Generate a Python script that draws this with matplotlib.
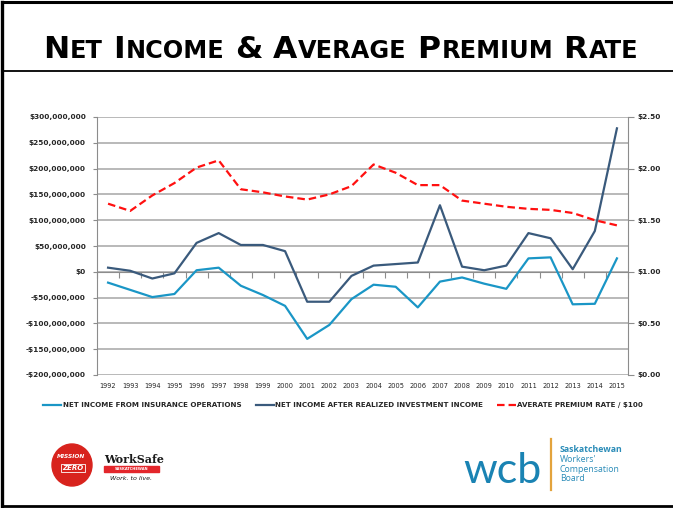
import matplotlib
matplotlib.use('Agg')
import matplotlib.pyplot as plt
from matplotlib.lines import Line2D
from matplotlib.patches import Ellipse, Rectangle
from matplotlib.ticker import FuncFormatter

W, H = 673, 508

# === Data ===
years = ['1992', '1993', '1994', '1995', '1996', '1997', '1998', '1999',
         '2000', '2001', '2002', '2003', '2004', '2005', '2006', '2007',
         '2008', '2009', '2010', '2011', '2012', '2013', '2014', '2015']
ops_income_m = [-21, -35, -49, -43, 3, 8, -27, -45, -66, -130, -103, -53,
                -25, -29, -69, -19, -11, -23, -33, 26, 28, -63, -62, 26]
after_inv_m = [8, 2, -13, -3, 56, 75, 52, 52, 40, -58, -58, -8,
               12, 15, 18, 129, 10, 3, 12, 75, 65, 5, 79, 278]
avg_rate = [1.66, 1.59, 1.74, 1.86, 2.01, 2.08, 1.80, 1.77, 1.73, 1.70, 1.75, 1.83,
            2.04, 1.96, 1.84, 1.84, 1.69, 1.66, 1.63, 1.61, 1.60, 1.57, 1.50, 1.45]
legend_labels = ['NET INCOME FROM INSURANCE OPERATIONS',
                 'NET INCOME AFTER REALIZED INVESTMENT INCOME',
                 'AVERATE PREMIUM RATE / $100']

C_OPS = '#1a96c6'
C_INV = '#3a5a7c'
C_RATE = '#ff1010'
GRID = '#a6a6a6'
TXT = '#262626'


def px(x, y):
    return x / W, 1 - y / H


fig = plt.figure(figsize=(W / 100, H / 100), dpi=100)

# === Frame (no right edge in the reference) ===
for (xa, ya), (xb, yb), lw in [((2, 2), (673, 2), 2.2), ((2, 2), (2, 506), 2.4),
                               ((2, 506), (673, 506), 2.0),
                               ((2, 71), (673, 71), 1.3)]:
    (x0, y0), (x1, y1) = px(xa, ya), px(xb, yb)
    fig.add_artist(Line2D([x0, x1], [y0, y1], transform=fig.transFigure,
                          color='black', lw=lw))

# === Small-caps title ===
words = [('N', 'ET'), ('I', 'NCOME'), ('&', ''), ('A', 'VERAGE'),
         ('P', 'REMIUM'), ('R', 'ATE')]
big_pt, small_pt = 24.6, 18.8
title_x0, title_x1, title_base = 43, 636, 58
renderer = fig.canvas.get_renderer()


def layout_title(scale, draw):
    x = title_x0
    texts = []
    for i, (b, s) in enumerate(words):
        for chunk, size in [(b, big_pt * scale), (s, small_pt * scale)]:
            if not chunk:
                continue
            t = fig.text(*px(x, title_base), chunk, fontsize=size, fontweight='bold',
                         va='baseline', ha='left', color='black')
            w = t.get_window_extent(renderer).width
            texts.append(t)
            x += w + 1
        if i < len(words) - 1:
            x += 0.30 * big_pt * scale * 100 / 72
    if not draw:
        for t in texts:
            t.remove()
    return x - title_x0


total = layout_title(1.0, False)
layout_title((title_x1 - title_x0) / total, True)

# === Chart ===
ax = fig.add_axes([97 / W, 1 - 375 / H, 531 / W, 258 / H])
ax2 = ax.twinx()
xs = list(range(len(years)))

l1, = ax.plot(xs, [v * 1e6 for v in ops_income_m], color=C_OPS, lw=1.6, zorder=3)
l2, = ax.plot(xs, [v * 1e6 for v in after_inv_m], color=C_INV, lw=1.6, zorder=3)
l3, = ax2.plot(xs, avg_rate, color=C_RATE, lw=1.6, zorder=3)
l3.set_dashes((3.4, 1.8))

ax.set_xlim(-0.5, len(years) - 0.5)
ax.set_ylim(-200e6, 300e6)
ax.set_yticks([v * 1e6 for v in range(-200, 301, 50)])


def money(v, pos):
    m = int(round(v))
    s = f'${abs(m):,}'
    return '-' + s if m < 0 else s


ax.yaxis.set_major_formatter(FuncFormatter(money))
ax.grid(axis='y', color=GRID, lw=1.1, zorder=0)
ax.set_axisbelow(True)

ax2.set_ylim(0, 2.5)
ax2.set_yticks([0, 0.5, 1.0, 1.5, 2.0, 2.5])
ax2.yaxis.set_major_formatter(FuncFormatter(lambda v, p: f'${v:.2f}'))

for sp in ['top', 'right']:
    ax.spines[sp].set_visible(False)
for sp in ['top', 'left', 'bottom']:
    ax2.spines[sp].set_visible(False)
ax.spines['left'].set_color('#8c8c8c')
ax2.spines['right'].set_color('#8c8c8c')

# category axis crosses at zero, tick marks between categories
ax.spines['bottom'].set_position(('data', 0))
ax.spines['bottom'].set_color('#8c8c8c')
ax.set_xticks([i + 0.5 for i in range(-1, len(years))])
ax.tick_params(axis='x', direction='out', length=4, color='#8c8c8c', labelbottom=False)

sec = ax.secondary_xaxis(0)
sec.set_xticks(xs, labels=years)
sec.spines['bottom'].set_visible(False)
sec.tick_params(length=0, labelsize=4.8, pad=6, labelcolor=TXT)

ax.tick_params(axis='y', direction='out', length=3, color='#8c8c8c', pad=5,
               labelsize=5.3, labelcolor=TXT)
ax2.tick_params(axis='y', direction='out', length=4, color='#8c8c8c', pad=3,
                labelsize=5.3, labelcolor=TXT)
for lab in ax.get_yticklabels() + ax2.get_yticklabels():
    lab.set_fontweight('bold')

fig.legend([l1, l2, l3], legend_labels, loc='center', ncol=3, frameon=False,
           bbox_to_anchor=px(343, 405), bbox_transform=fig.transFigure,
           prop={'size': 5.1, 'weight': 'bold'}, labelcolor=TXT,
           handlelength=2.6, handletextpad=0.2, columnspacing=2.0)

# === Logos ===
fig.add_artist(Ellipse(px(72, 465), 40 / W, 42 / H, transform=fig.transFigure,
                       color='#d8231d'))
fig.text(*px(71, 456), 'MISSION', fontsize=4.2, fontweight='bold', color='white',
         ha='center', va='center', style='italic')
fig.text(*px(73, 468), 'ZERO', fontsize=5, fontweight='bold', color='white',
         ha='center', va='center', style='italic',
         bbox=dict(boxstyle='square,pad=0.15', fc='none', ec='white', lw=0.6))
fig.text(*px(104, 463), 'WorkSafe', fontsize=8, fontweight='bold', color='#1a1a1a',
         ha='left', va='baseline', family='DejaVu Serif')
rx, ry = px(104, 472)
fig.add_artist(Rectangle((rx, ry), 55 / W, 6 / H, transform=fig.transFigure,
                         color='#e3262b'))
fig.text(*px(131.5, 469), 'SASKATCHEWAN', fontsize=2.6, fontweight='bold', color='white',
         ha='center', va='center')
fig.text(*px(131, 479), 'Work. to live.', fontsize=4.6, color='#1a1a1a',
         ha='center', va='center', style='italic')

fig.text(*px(463, 483), 'wcb', fontsize=31, color='#1a83b3', ha='left', va='baseline',
         family=['Lato', 'DejaVu Sans'], fontweight='normal')
fig.add_artist(Line2D([551 / W, 551 / W], [1 - 439 / H, 1 - 490 / H],
                      transform=fig.transFigure, color='#e3a33c', lw=1.6))
for i, (s, wgt) in enumerate([('Saskatchewan', 'bold'), ("Workers'", 'normal'),
                              ('Compensation', 'normal'), ('Board', 'normal')]):
    fig.text(*px(560, 450 + i * 9.5), s, fontsize=6.3, fontweight=wgt, color='#2a8cb8',
             ha='left', va='center', family=['Open Sans', 'DejaVu Sans'])

fig.savefig('out.png', dpi=100)
